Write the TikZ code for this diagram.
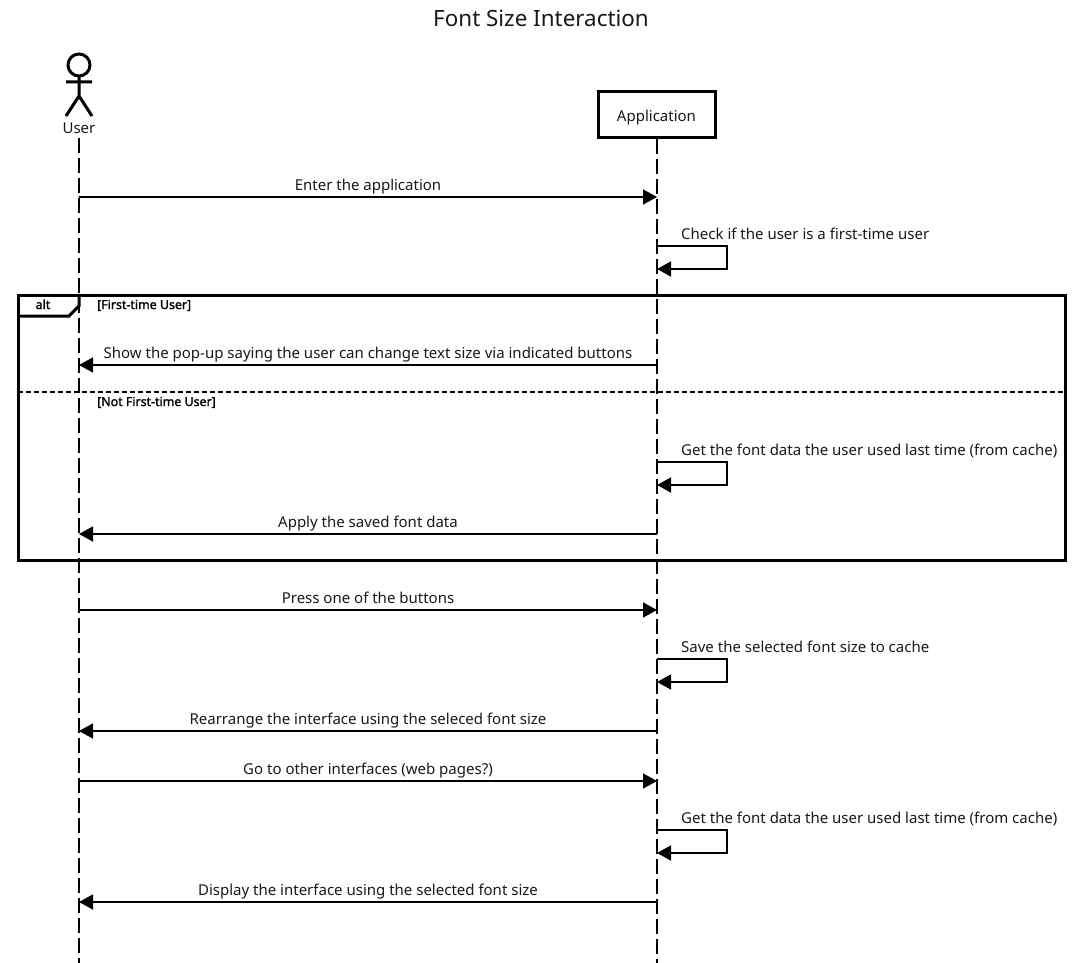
\documentclass[tikz,border=0pt]{standalone}
\usepackage{fontspec}
\setmainfont{Noto Sans}
\newfontfamily\guardfont[FakeBold=1.6]{Noto Sans}
\usetikzlibrary{arrows.meta}
\tikzset{
 x=1pt,y=-1pt,
 lifeline/.style={line width=1.5pt,dash pattern=on 15pt off 5pt},
 msg/.style={line width=1.5pt,-{Triangle[length=14pt,width=15pt,sharp]},shorten >=0pt},
 lbl/.style={font=\fontsize{15}{17}\selectfont,anchor=base,inner sep=0pt,text=black!90},
 lblw/.style={lbl,anchor=base west},
 guard/.style={font=\guardfont\fontsize{12.4}{14}\selectfont,anchor=base west,inner sep=0pt},
 framebox/.style={line width=3pt},
 stick/.style={line width=3pt},
 titlelbl/.style={font=\fontsize{22.4}{26}\selectfont,anchor=base,inner sep=0pt,text=black!90},
}
\newcommand{\sendright}[3]{% y, name, label
  \coordinate (u#2) at (79,#1); \coordinate (a#2) at (657,#1);
  \draw[msg] (u#2) -- (a#2);
  \node[lbl] (t#2) at (368,#1-7) {#3};}
\newcommand{\sendleft}[3]{%
  \coordinate (u#2) at (79,#1); \coordinate (a#2) at (657,#1);
  \draw[msg] (a#2) -- (u#2);
  \node[lbl] (t#2) at (368,#1-7) {#3};}
\newcommand{\selfmsg}[3]{% y top, name, label
  \coordinate (s#2) at (657,#1); \coordinate (p#2) at (727,#1);
  \coordinate (q#2) at (727,#1+23); \coordinate (e#2) at (657,#1+23);
  \draw[msg] (s#2) -- (p#2) -- (q#2) -- (e#2);
  \node[lblw] (t#2) at (681,#1-7) {#3};}
\begin{document}
\begin{tikzpicture}
\useasboundingbox (0,0) rectangle (1082,963);
\fill[white] (0,0) rectangle (1082,963);
\node[titlelbl] (title) at (541,27) {Font Size Interaction};
% actor
\draw[stick] (79,65) circle (11);
\coordinate (neck) at (79,76); \coordinate (hip) at (79,96);
\coordinate (armL) at (66,82); \coordinate (armR) at (92,82);
\coordinate (legL) at (66,116); \coordinate (legR) at (92,116);
\draw[stick] (neck) -- (hip) (armL) -- (armR) (legL) -- (hip) -- (legR);
\node[lbl] (user) at (79,134) {User};
% application
\node[draw,line width=3pt,minimum width=117pt,minimum height=46pt,inner sep=0pt] (app) at (656.5,114.5) {};
\node[lbl] (applbl) at (656.5,122) {Application};
% lifelines
\coordinate (uEnd) at (79,963); \coordinate (aEnd) at (657,963);
\coordinate (uStart) at (79,138);
\draw[lifeline] (uStart) -- (uEnd);
\draw[lifeline] (app.south -| aEnd) -- (aEnd);
% frame
\coordinate (fTL) at (18,295.3); \coordinate (fBR) at (1065,560.3);
\draw[framebox] (fTL) rectangle (fBR);
\coordinate (tabA) at (79,295.3); \coordinate (tabB) at (79,306); \coordinate (tabC) at (69,316); \coordinate (tabD) at (18,316);
\draw[framebox,line join=miter] (tabA) -- (tabB) -- (tabC) -- (tabD);
\node[guard,anchor=base] (alt) at (43,309) {alt};
\node[guard] (g1) at (97,309) {[First-time User]};
\coordinate (divL) at (18,392); \coordinate (divR) at (1065,392);
\draw[line width=2.4pt,dash pattern=on 5pt off 3pt] (divL) -- (divR);
\node[guard] (g2) at (97,406) {[Not First-time User]};
% messages
\sendright{197}{m1}{Enter the application}
\selfmsg{246}{m2}{Check if the user is a first-time user}
\sendleft{365}{m3}{Show the pop-up saying the user can change text size via indicated buttons}
\selfmsg{462}{m4}{Get the font data the user used last time (from cache)}
\sendleft{534}{m5}{Apply the saved font data}
\sendright{610}{m6}{Press one of the buttons}
\selfmsg{659}{m7}{Save the selected font size to cache}
\sendleft{731}{m8}{Rearrange the interface using the seleced font size}
\sendright{781}{m9}{Go to other interfaces (web pages?)}
\selfmsg{830}{m10}{Get the font data the user used last time (from cache)}
\sendleft{902}{m11}{Display the interface using the selected font size}
\end{tikzpicture}
\end{document}
